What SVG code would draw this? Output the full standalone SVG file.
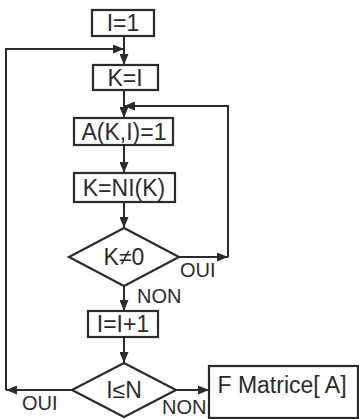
<svg xmlns="http://www.w3.org/2000/svg" width="359" height="419" viewBox="0 0 359 419">
<defs>
<marker id="ah" markerUnits="userSpaceOnUse" markerWidth="11" markerHeight="9" refX="11" refY="4.5" orient="auto">
<path d="M0,0 L11,4.5 L0,9 z" fill="#2b2b2b"/>
</marker>
<style>
.box{fill:none;stroke:#2b2b2b;stroke-width:2.2}
.ln{fill:none;stroke:#2b2b2b;stroke-width:2}
.t{font-family:"Liberation Sans",Arial,sans-serif;font-size:23px;fill:#2b2b2b;text-anchor:middle}
.l{font-family:"Liberation Sans",Arial,sans-serif;font-size:20px;fill:#2b2b2b}
</style>
</defs>
<rect width="359" height="419" fill="#ffffff"/>
<g id="connectors">
<path class="ln" d="M124,36 V65" marker-end="url(#ah)"/>
<path class="ln" d="M6,390 V49 H124" marker-end="url(#ah)"/>
<path class="ln" d="M124,90 V118" marker-end="url(#ah)"/>
<path class="ln" d="M124,145 V173" marker-end="url(#ah)"/>
<path class="ln" d="M124,202 V228" marker-end="url(#ah)"/>
<path class="ln" d="M179,257 H228" marker-end="url(#ah)"/>
<path class="ln" d="M228,257 V106 H124" marker-end="url(#ah)"/>
<path class="ln" d="M124,286 V311" marker-end="url(#ah)"/>
<path class="ln" d="M124,337 V363" marker-end="url(#ah)"/>
<path class="ln" d="M72,390 H6" marker-end="url(#ah)"/>
<path class="ln" d="M176,390 H209" marker-end="url(#ah)"/>
</g>
<g id="n1"><rect class="box" x="92" y="10" width="62" height="26"/><text class="t" x="123" y="31">I=1</text></g>
<g id="n2"><rect class="box" x="93" y="65" width="65" height="25"/><text class="t" x="125" y="86">K=I</text></g>
<g id="n3"><rect class="box" x="74" y="118" width="99" height="27"/><text class="t" x="124" y="140">A(K,I)=1</text></g>
<g id="n4"><rect class="box" x="74" y="173" width="101" height="29"/><text class="t" x="124" y="196">K=NI(K)</text></g>
<g id="n5"><polygon class="box" points="124,228 179,257 124,286 69,257"/><text class="t" x="124" y="265">K≠0</text></g>
<g id="n6"><rect class="box" x="88" y="311" width="70" height="26"/><text class="t" x="123" y="332">I=I+1</text></g>
<g id="n7"><polygon class="box" points="124,363 176,390 124,417 72,390"/><text class="t" x="124" y="398">I≤N</text></g>
<g id="n8"><rect class="box" x="209" y="366" width="149" height="52"/><text class="t" x="282" y="393">F Matrice[ A]</text></g>
<g id="labels">
<text class="l" x="180" y="277">OUI</text>
<text class="l" x="137" y="303">NON</text>
<text class="l" x="22" y="410">OUI</text>
<text class="l" x="162" y="414">NON</text>
</g>
</svg>
